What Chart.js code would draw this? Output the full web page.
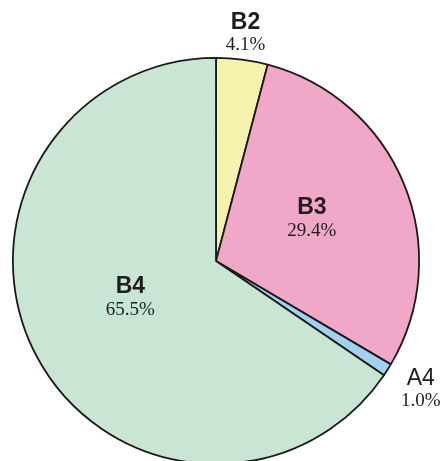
<!DOCTYPE html>
<html>
<head>
<meta charset="utf-8">
<script src="https://cdn.jsdelivr.net/npm/chart.js@4/dist/chart.umd.min.js"></script>
<style>
  html, body { margin: 0; padding: 0; background: #ffffff; overflow: hidden; width: 443px; height: 461px; }
  #c { position: absolute; left: 0; top: 0; }
</style>
</head>
<body>
<canvas id="c" width="443" height="530"></canvas>
<script>
const categories = ['B2', 'B3', 'A4', 'B4'];
const shares = [4.1, 29.4, 1.0, 65.5];
const sliceColors = ['#f6f1ad', '#f1a8c8', '#a2d1ef', '#c9e6d5'];

// label placement: radius as a fraction of the pie radius, angle shift in degrees
const labelRadius = [1.13, 0.515, 1.19, 0.459];
const labelAngleShift = [0, -1.3, -0.3, 4.6];
const labelWeight = ['bold', 'bold', 'normal', 'bold'];

const sliceLabels = {
  id: 'sliceLabels',
  afterDatasetsDraw(chart) {
    const ctx = chart.ctx;
    const meta = chart.getDatasetMeta(0);
    const data = chart.data.datasets[0].data;
    const total = data.reduce((a, b) => a + b, 0);
    meta.data.forEach((arc, i) => {
      const p = arc.getProps(['x', 'y', 'startAngle', 'endAngle', 'outerRadius'], true);
      const mid = (p.startAngle + p.endAngle) / 2 + labelAngleShift[i] * Math.PI / 180;
      const r = p.outerRadius * labelRadius[i];
      const cx = p.x + Math.cos(mid) * r;
      const cy = p.y + Math.sin(mid) * r;
      ctx.save();
      ctx.fillStyle = '#1e1e1e';
      ctx.textAlign = 'center';
      ctx.textBaseline = 'middle';
      ctx.font = labelWeight[i] + ' 23px "Liberation Sans", Arial, sans-serif';
      ctx.fillText(chart.data.labels[i], cx, cy - 11);
      ctx.font = '19px "Liberation Serif", "Times New Roman", serif';
      ctx.fillText((data[i] / total * 100).toFixed(1) + '%', cx, cy + 12);
      ctx.restore();
    });
  }
};

new Chart(document.getElementById('c'), {
  type: 'pie',
  data: {
    labels: categories,
    datasets: [{
      data: shares,
      backgroundColor: sliceColors,
      borderColor: '#1a1a1a',
      borderWidth: 1.8,
      hoverOffset: 0
    }]
  },
  options: {
    responsive: false,
    animation: false,
    devicePixelRatio: 1,
    layout: { padding: { left: 12, right: 23, top: 57, bottom: 65 } },
    plugins: {
      legend: { display: false },
      tooltip: { enabled: false }
    }
  },
  plugins: [sliceLabels]
});
</script>
</body>
</html>
